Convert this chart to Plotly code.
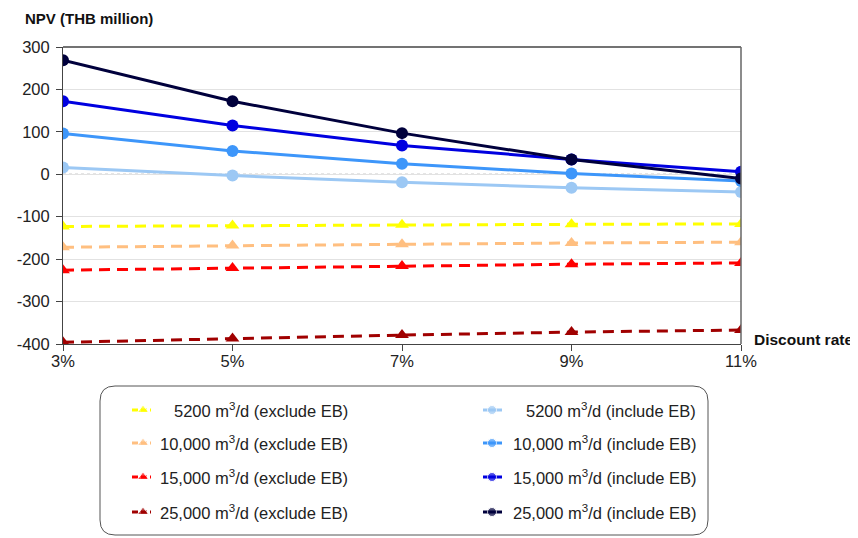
import plotly.graph_objects as go

rates = [3, 5, 7, 9, 11]
rate_labels = ["3%", "5%", "7%", "9%", "11%"]
y_ticks = [-400, -300, -200, -100, 0, 100, 200, 300]
y_tick_labels = ["-400", "-300", "-200", "-100", "0", "100", "200", "300"]

excl_names = ["5200 m<sup>3</sup>/d (exclude EB)",
              "10,000 m<sup>3</sup>/d (exclude EB)",
              "15,000 m<sup>3</sup>/d (exclude EB)",
              "25,000 m<sup>3</sup>/d (exclude EB)"]
incl_names = ["5200 m<sup>3</sup>/d (include EB)",
              "10,000 m<sup>3</sup>/d (include EB)",
              "15,000 m<sup>3</sup>/d (include EB)",
              "25,000 m<sup>3</sup>/d (include EB)"]

excl_5200 = [-123, -121, -119, -118, -117]
excl_10000 = [-172, -168, -165, -162, -160]
excl_15000 = [-226, -221, -216, -212, -209]
excl_25000 = [-396, -387, -379, -372, -367]

incl_5200 = [16, -3, -19, -32, -42]
incl_10000 = [96, 55, 25, 2, -16]
incl_15000 = [172, 115, 68, 35, 6]
incl_25000 = [269, 172, 97, 35, -10]

excl_colors = ["#FFFF00", "#FFBF80", "#FF0000", "#A00000"]
incl_colors = ["#9CC8F4", "#3D96FA", "#0000E0", "#00003C"]

# window size and default page margin of the html body
WIN_W, WIN_H, OFF = 858, 538, 8
W, H = WIN_W - OFF, WIN_H - OFF
# plot area in window pixels
PL, PR, PT, PB = 63, 741, 47, 344

FONT = "Liberation Sans, Arial, sans-serif"
DASH = "11px,7px"

fig = go.Figure()
excl_series = [excl_5200, excl_10000, excl_15000, excl_25000]
incl_series = [incl_5200, incl_10000, incl_15000, incl_25000]
for name, vals, col in zip(excl_names, excl_series, excl_colors):
    fig.add_trace(go.Scatter(x=rates, y=vals, name=name, mode="lines+markers",
                             line=dict(color=col, width=3, dash=DASH),
                             marker=dict(symbol="triangle-up", size=12, color=col),
                             showlegend=False))
for name, vals, col in zip(incl_names, incl_series, incl_colors):
    fig.add_trace(go.Scatter(x=rates, y=vals, name=name, mode="lines+markers",
                             line=dict(color=col, width=3),
                             marker=dict(symbol="circle", size=12, color=col),
                             showlegend=False))

# ---- manual legend on an overlay axis in window-pixel coordinates ----
rows = [410, 443, 477, 512]
for i, (name, col) in enumerate(zip(excl_names, excl_colors)):
    fig.add_trace(go.Scatter(x=[132, 143, 151], y=[rows[i]] * 3, mode="lines+markers",
                             line=dict(color=col, width=3, dash="6px,3px"),
                             marker=dict(symbol="triangle-up", size=[0, 10, 0], color=col),
                             xaxis="x2", yaxis="y2", showlegend=False, hoverinfo="skip"))
    fig.add_annotation(text=name, xref="x2", yref="y2", x=350, y=rows[i],
                       xanchor="right", yanchor="middle", showarrow=False,
                       font=dict(size=16.5, color="#222222", family=FONT))
for i, (name, col) in enumerate(zip(incl_names, incl_colors)):
    fig.add_trace(go.Scatter(x=[483, 492, 502], y=[rows[i]] * 3, mode="lines+markers",
                             line=dict(color=col, width=3),
                             marker=dict(symbol="circle", size=[0, 9, 0], color=col),
                             xaxis="x2", yaxis="y2", showlegend=False, hoverinfo="skip"))
    fig.add_annotation(text=name, xref="x2", yref="y2", x=698, y=rows[i],
                       xanchor="right", yanchor="middle", showarrow=False,
                       font=dict(size=16.5, color="#222222", family=FONT))

# rounded legend box
bx0, bx1, by0, by1, r = 100, 708, 386, 535, 15
path = (f"M {bx0+r},{by0} L {bx1-r},{by0} Q {bx1},{by0} {bx1},{by0+r} "
        f"L {bx1},{by1-r} Q {bx1},{by1} {bx1-r},{by1} L {bx0+r},{by1} "
        f"Q {bx0},{by1} {bx0},{by1-r} L {bx0},{by0+r} Q {bx0},{by0} {bx0+r},{by0} Z")
fig.add_shape(type="path", path=path, xref="x2", yref="y2",
              line=dict(color="#555555", width=1), fillcolor="rgba(0,0,0,0)")

# frame top/right of plot
fig.add_shape(type="line", xref="x domain", yref="y domain", x0=0, x1=1, y0=1, y1=1,
              line=dict(color="#444444", width=1.5))
fig.add_shape(type="line", xref="x domain", yref="y domain", x0=1, x1=1, y0=0, y1=1,
              line=dict(color="#666666", width=1.5))
# dotted zero line
fig.add_shape(type="line", xref="x domain", yref="y", x0=0, x1=1, y0=0, y1=0,
              line=dict(color="#888888", width=1, dash="dot"), layer="below")

fig.add_annotation(text="<b>NPV (THB million)</b>", xref="x2", yref="y2",
                   x=23, y=18, xanchor="left", yanchor="middle",
                   showarrow=False, font=dict(size=15, color="#111111", family=FONT))
fig.add_annotation(text="<b>Discount rate</b>", xref="x2", yref="y2",
                   x=752, y=339, xanchor="left", yanchor="middle",
                   showarrow=False, font=dict(size=15.5, color="#111111", family=FONT))

fig.update_layout(
    width=W, height=H,
    margin=dict(l=0, r=0, t=0, b=0),
    plot_bgcolor="rgba(0,0,0,0)", paper_bgcolor="white",
    font=dict(family=FONT, size=16.5, color="#222222"),
    xaxis=dict(domain=[(PL - OFF) / W, (PR - OFF) / W], range=[3, 11],
               tickvals=rates, ticktext=rate_labels,
               showgrid=False, showline=True, linecolor="#444444", linewidth=1,
               ticks="outside", ticklen=6, tickcolor="#444444", zeroline=False,
               ticklabelstandoff=-4,
               fixedrange=True, anchor="y", automargin=False),
    yaxis=dict(domain=[1 - (PB - OFF) / H, 1 - (PT - OFF) / H], range=[-400, 300],
               tickvals=y_ticks, ticktext=y_tick_labels,
               showgrid=True, gridcolor="#E2E2E2", gridwidth=1,
               showline=True, linecolor="#444444", linewidth=1,
               ticks="outside", ticklen=6, tickcolor="#444444", zeroline=False,
               ticklabelstandoff=3,
               fixedrange=True, anchor="x", automargin=False),
    xaxis2=dict(domain=[0, 1], range=[OFF, WIN_W], visible=False, anchor="y2", fixedrange=True),
    yaxis2=dict(domain=[0, 1], range=[WIN_H, OFF], visible=False, anchor="x2", fixedrange=True),
    showlegend=False,
)

fig.write_html("out.html")
